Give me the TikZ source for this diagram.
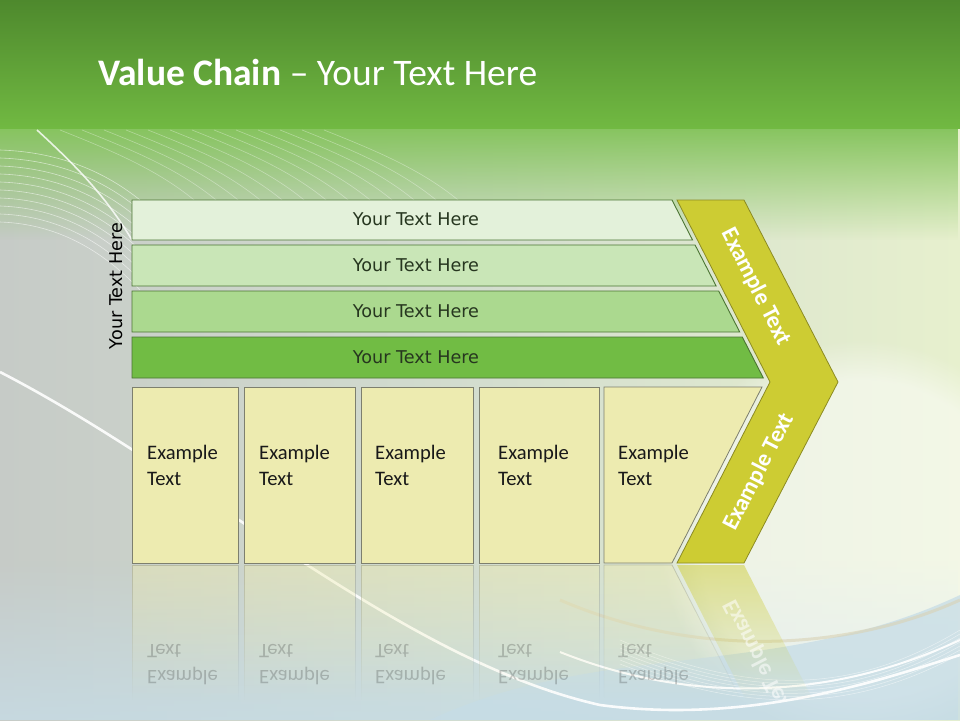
\documentclass[tikz,border=0pt]{standalone}
\usepackage{fontspec}
\setmainfont{Carlito}
\newfontfamily\bandfont{DejaVu Sans}
\usepackage{tikz}
\usetikzlibrary{fadings}

\definecolor{hdtop}{HTML}{4E892D}
\definecolor{hdbot}{HTML}{71B942}
\definecolor{bgleft}{HTML}{C6CBC7}
\definecolor{bgmid}{HTML}{D3DDCF}
\definecolor{bgright}{HTML}{E7F0CE}
\definecolor{bgblue}{HTML}{C6DCE6}
\definecolor{bgtan}{HTML}{D9D2B4}
\definecolor{bandA}{HTML}{E3F1DA}
\definecolor{bandB}{HTML}{C9E6B7}
\definecolor{bandC}{HTML}{ABD98F}
\definecolor{bandD}{HTML}{71BC44}
\definecolor{bandline}{HTML}{4B7533}
\definecolor{bandtext}{HTML}{26361F}
\definecolor{boxfill}{HTML}{EDEBB0}
\definecolor{boxline}{HTML}{7D7F6E}
\definecolor{chev}{HTML}{CDCC33}
\definecolor{chevline}{HTML}{8C8B22}

\tikzfading[name=fadedown, top color=transparent!0, bottom color=transparent!100]
\tikzfading[name=fadeup, top color=transparent!100, bottom color=transparent!0]

\begin{document}
\begin{tikzpicture}[x=1pt, y=-1pt,
    band/.style={draw=bandline, line width=0.9pt},
    bandlbl/.style={font=\bandfont\fontsize{17.6}{21}\selectfont, text=bandtext, inner sep=0pt},
    cell/.style={draw=boxline, fill=boxfill, line width=0.8pt},
    celllbl/.style={font=\fontsize{20.6}{25.7}\selectfont, align=left, anchor=north west, inner sep=0pt, text=black!90},
    mirror/.style={cell, draw opacity=0.35, fill opacity=0.45, path fading=fadedown},
    chevlbl/.style={font=\bfseries\fontsize{23.5}{27}\selectfont, text=white, inner sep=0pt}
  ]
    \useasboundingbox (0,0) rectangle (960,720);

    % background
    \fill[left color=bgleft, right color=bgright, middle color=bgmid] (0,0) rectangle (960,720);
    \fill[bgblue, path fading=fadeup, opacity=0.8] (0,560) rectangle (960,720);
    \fill[white, opacity=0.5, path fading=circle with fuzzy edge 20 percent] (860,540) circle (200);
    \fill[bgblue, opacity=0.75] (430,720) .. controls (600,640) and (780,680) .. (960,595) -- (960,720) -- cycle;
    \fill[hdbot!85!white, path fading=fadedown] (0,127) rectangle (960,240);
    \shade[top color=hdtop, bottom color=hdbot] (0,0) rectangle (960,128);
    \foreach \k in {0,...,9}
      \draw[white, opacity=0.55, line width=0.6pt] (0,{150+8*\k}) .. controls (60,{152+8*\k}) and (105,{172+9*\k}) .. (140,{200+10*\k});
    \foreach \k in {0,...,12}
      \draw[white, opacity=0.35, line width=0.6pt] ({60+22*\k},130) .. controls ({110+22*\k},150) and ({160+22*\k},170) .. ({200+22*\k},205);
    \foreach \k in {0,...,6}
      \draw[white, opacity=0.5, line width=0.5pt] (620,{640+4*\k}) .. controls (760,{700+3*\k}) and (860,{690+3*\k}) .. (960,{630+4*\k});
    \draw[bgtan, line width=3pt, opacity=0.6] (560,600) .. controls (700,660) and (850,650) .. (960,600);
    \draw[white, line width=2pt, opacity=0.9] (560,652) .. controls (680,700) and (820,705) .. (960,640);
    \draw[white, line width=1.6pt, opacity=0.8] (37,130) .. controls (75,165) and (105,195) .. (132,240);
    \draw[white, line width=2.6pt, opacity=0.9] (0,372) .. controls (200,475) and (400,660) .. (600,705) .. controls (750,725) and (880,680) .. (960,655);

    % title
    \node[anchor=base west, inner sep=0pt, text=white, font=\fontsize{37.5}{44}\selectfont] (title) at (98,85) {\textbf{Value Chain} -- Your Text Here};

    % side label
    \node[bandlbl, text=black, rotate=90] (side) at (116,286) {Your Text Here};

    % bands
    \foreach \t/\b/\c/\n in {200/240/bandA/1, 245/286/bandB/2, 291/332/bandC/3, 337/378/bandD/4} {
      \draw[band, fill=\c] (132,\t) -- ({672+0.513*(\t-200)},\t) -- ({672+0.513*(\b-200)},\b) -- (132,\b) -- cycle;
      \node[bandlbl] (lbl\n) at (416,{(\t+\b)/2-0.5}) {Your Text Here};
    }

    % reflections
    \foreach \l/\r/\tx in {132/238/147, 244/355/259, 361/473/375, 479/599/498} {
      \draw[mirror] (\l,565) rectangle (\r,700);
      \node[celllbl, yscale=-1, text opacity=0.22] at (\tx,685) {Example\\Text};
    }
    \draw[mirror] (604,565) -- (672,565) -- (740,698) -- (604,698) -- cycle;
    \node[celllbl, yscale=-1, text opacity=0.22] at (618,685) {Example\\Text};
    \begin{scope}
      \clip (660,565) rectangle (840,700);
      \fill[chev, opacity=0.5, path fading=fadedown] (677,565) -- (744,565) -- (813,700) -- (746,700) -- cycle;
      \node[chevlbl, yscale=-1, rotate=62.8, text opacity=0.55] (chevref) at (759,658) {Example Text};
    \end{scope}

    % cells
    \foreach \l/\r/\tx/\n in {132/238/147/1, 244/355/259/2, 361/473/375/3, 479/599/498/4} {
      \draw[cell] (\l,387) rectangle (\r,563);
      \node[celllbl] (cell\n) at (\tx,445) {Example\\Text};
    }
    \draw[cell] (604,387) -- (762,387) -- (672,563) -- (604,563) -- cycle;
    \node[celllbl] (cell5) at (618,445) {Example\\Text};

    % chevron
    \draw[fill=chev, draw=chevline, line width=0.8pt] (677,200) -- (744,200) -- (838,382) -- (744,563) -- (677,563) -- (770,382) -- cycle;
    \node[chevlbl, rotate=-62.8] (chevtop) at (756,287) {Example Text};
    \node[chevlbl, rotate=62.8] (chevbot) at (759,472) {Example Text};
  \end{tikzpicture}
\end{document}
